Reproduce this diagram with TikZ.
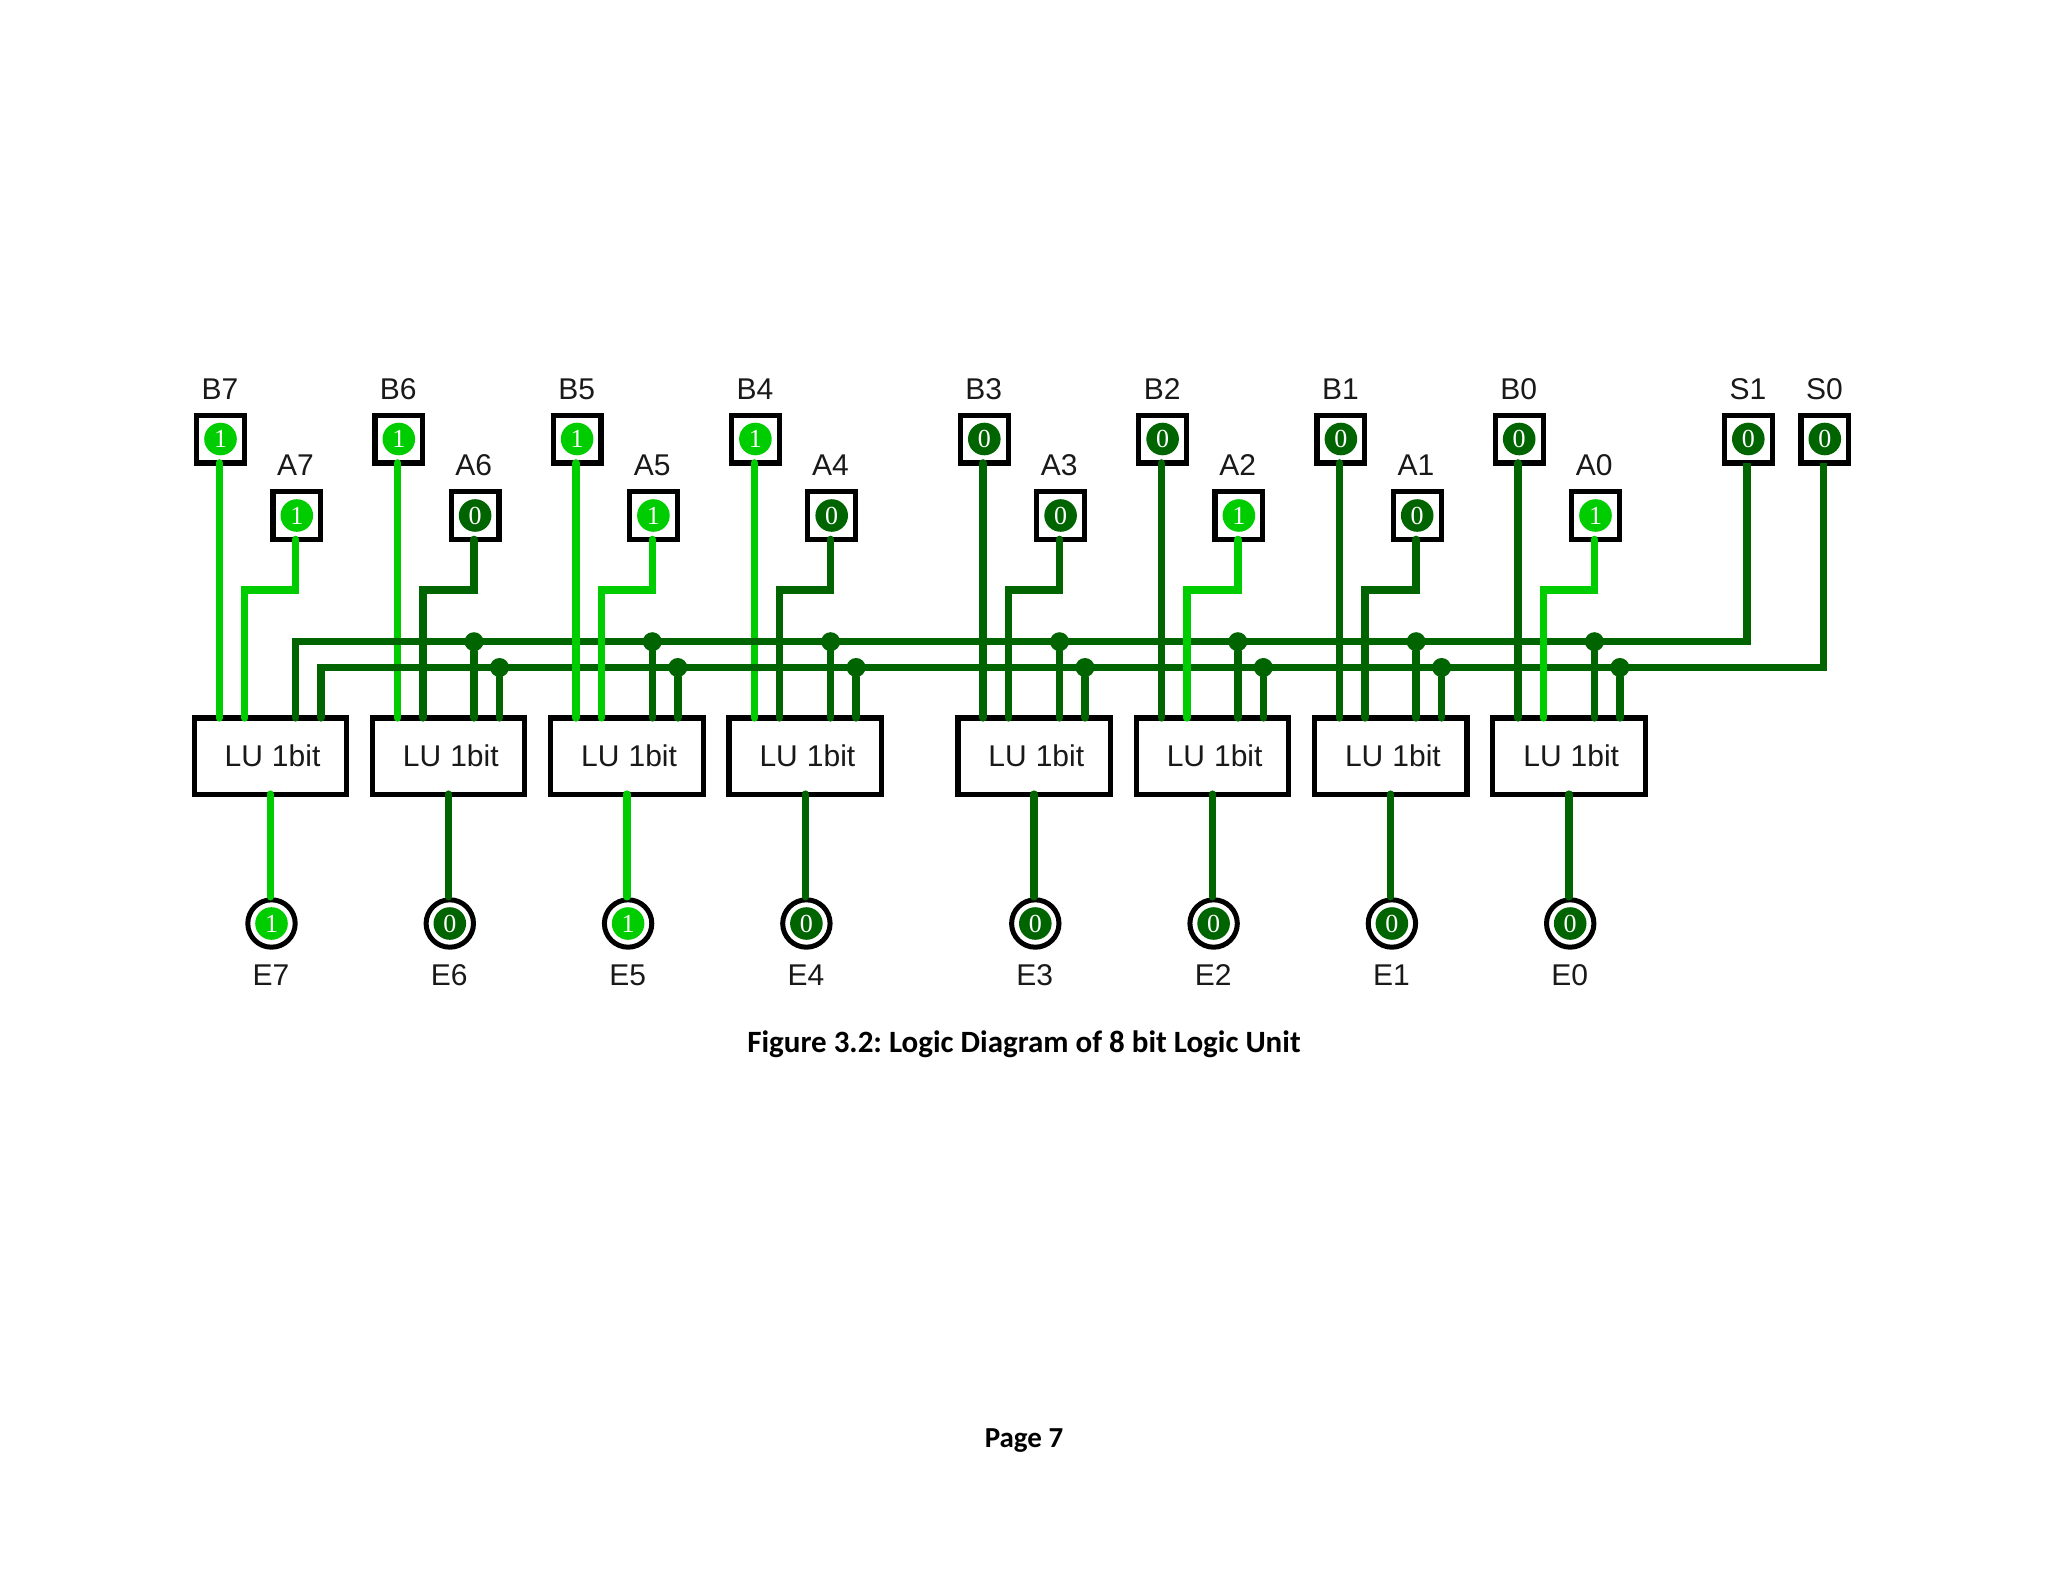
\documentclass[tikz,border=0pt]{standalone}
\usepackage{fontspec}
\setmainfont{Liberation Sans}
\newfontfamily\capfont{Carlito}[BoldFont=Carlito Bold]
\newfontfamily\ledfont{Liberation Serif}
\definecolor{on}{RGB}{0,205,0}
\definecolor{off}{RGB}{0,100,0}
\frenchspacing
\tikzset{
  x=1pt,y=-1pt,
  lbl/.style={inner sep=0pt,font=\fontsize{30}{30}\selectfont,anchor=base,text=black!90},
  pin/.style={draw=black,line width=5.2pt,fill=white,minimum size=47.8pt,inner sep=0pt,outer sep=0pt,rectangle},
  lu/.style={draw=black,line width=5.2pt,fill=white,minimum width=152.4pt,minimum height=76.2pt,inner sep=0pt,outer sep=0pt,rectangle},
  outp/.style={draw=black,line width=5pt,fill=white,circle,minimum size=47.4pt,inner sep=0pt,outer sep=0pt},
  wire/.style={line width=7.4pt,line cap=round,line join=miter},
  bus/.style={line width=7.4pt,line cap=butt,line join=miter,off},
  led/.style={circle,minimum size=32.6pt,inner sep=0pt,text=white,font=\ledfont\fontsize{26}{26}\selectfont},
  jdot/.style={circle,fill=off,minimum size=19pt,inner sep=0pt},
  captext/.style={inner sep=0pt,anchor=base,font=\capfont\bfseries\fontsize{31}{32}\selectfont},
  pagetext/.style={inner sep=0pt,anchor=base,font=\capfont\bfseries\fontsize{29}{30}\selectfont}
}
\begin{document}
\begin{tikzpicture}
\useasboundingbox[fill=white] (0,0) rectangle (2048,1582);
% boxes first so that every connector can name its ends
\foreach \n/\x in {7/220.5,6/398.8,5/577.1,4/755.4,3/984.3,2/1162.6,1/1340.9,0/1519.2}{
  \node[pin] (B\n) at (\x,439) {};
  \node[pin] (A\n) at (\x+76.3,515.5) {};
  \node[lu] (L\n) at (\x+49.8,756) {};
  \node[outp] (E\n) at (\x+51,923.5) {};
  \node[lbl] (tB\n) at (\x-0.5,399) {B\n};
  \node[lbl] (tA\n) at (\x+75,475.5) {A\n};
  \node[lbl] (tE\n) at (\x+50.5,985) {E\n};
  \node[lbl] (tL\n) at (\x+52,766) {LU\hspace{9pt}1bit};
}
\node[pin] (S1) at (1748.3,439) {};
\node[pin] (S0) at (1824.8,439) {};
\node[lbl] (tS1) at (1748,399) {S1};
\node[lbl] (tS0) at (1824.5,399) {S0};
\coordinate (busS) at (295.7,641.7);
\coordinate (busT) at (321,667.5);
% B inputs that run under the buses
\foreach \n/\b in {7/on,6/on,4/on,3/off,2/off,1/off,0/off}{
  \draw[wire,\b] ([xshift=-1.2pt]B\n.south) -- ([xshift=-51pt]L\n.north);
}
% buses
\draw[bus] ([xshift=-1.3pt]S1.south) |- (busS) -- (busS |- L7.north);
\draw[bus] ([xshift=-1.5pt]S0.south) |- (busT) -- (busT |- L7.north);
% B5 runs over the buses
\draw[wire,on] ([xshift=-1.2pt]B5.south) -- ([xshift=-51pt]L5.north);
% A inputs, outputs, indicators
\foreach \n/\a/\e/\va/\ve/\vb/\b in {
  7/on/on/1/1/1/on,
  6/off/off/0/0/1/on,
  5/on/on/1/1/1/on,
  4/off/off/0/0/1/on,
  3/off/off/0/0/0/off,
  2/on/off/1/0/0/off,
  1/off/off/0/0/0/off,
  0/on/off/1/0/0/off}{
  \draw[wire,\a] ([xshift=-1.1pt]A\n.south) -- ++(0,50.5) -| ([xshift=-25.6pt]L\n.north);
  \draw[wire,\e] (L\n.south) -- ([xshift=-1.2pt,yshift=3pt]E\n.north);
  \node[led,fill=\b] (lB\n) at (B\n) {\vb};
  \node[led,fill=\a] (lA\n) at (A\n) {\va};
  \node[led,fill=\e] (lE\n) at (E\n) {\ve};
}
% select taps with junction dots (unit 7 is the end of each bus)
\draw[wire,off,line cap=round] (busS |- L7.north) -- ++(0,-1);
\draw[wire,off,line cap=round] (busT |- L7.north) -- ++(0,-1);
\foreach \n in {6,5,4,3,2,1,0}{
  \node[jdot] (js\n) at ([xshift=25.4pt]L\n.north |- busS) {};
  \node[jdot] (jt\n) at ([xshift=50.9pt]L\n.north |- busT) {};
  \draw[wire,off] (js\n) -- ([xshift=25.4pt]L\n.north);
  \draw[wire,off] (jt\n) -- ([xshift=50.9pt]L\n.north);
}
\node[led,fill=off] (lS1) at (S1) {0};
\node[led,fill=off] (lS0) at (S0) {0};
\node[captext] (caption) at (1024,1052) {Figure 3.2: Logic Diagram of 8 bit Logic Unit};
\node[pagetext] (page) at (1024,1447) {Page 7};
\end{tikzpicture}
\end{document}
